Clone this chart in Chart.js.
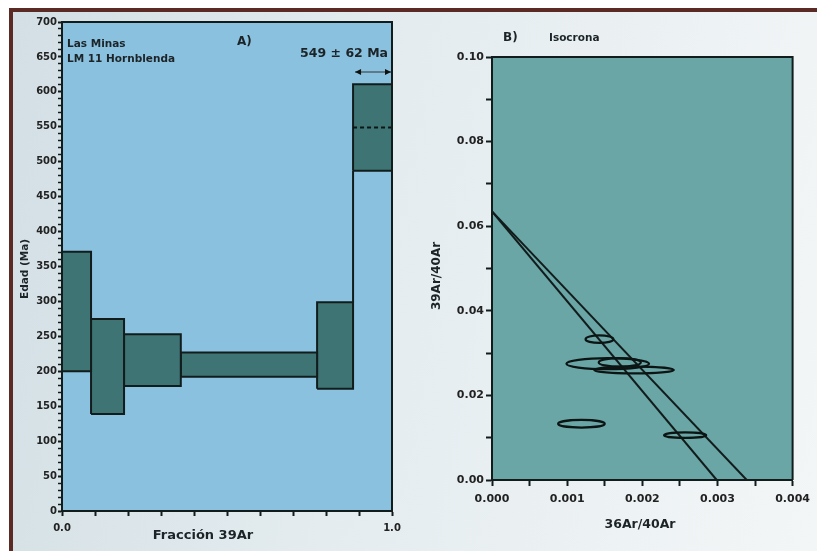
<!DOCTYPE html>
<html>
<head>
<meta charset="utf-8">
<script src="https://cdn.jsdelivr.net/npm/chart.js@4.4.0/dist/chart.umd.min.js"></script>
<style>
html, body { margin: 0; padding: 0; }
body { width: 817px; height: 551px; position: relative; overflow: hidden; background: #fff; }
#bg { position: absolute; left: 9px; top: 8px; width: 808px; height: 543px;
      background: linear-gradient(100deg, #d3dfe5 0%, #e4ecef 45%, #f3f6f7 100%);
      border-top: 4px solid #5b2a24; border-left: 4px solid #5b2a24; box-sizing: border-box; }
#c1 { position: absolute; left: 0; top: 0; width: 420px; height: 551px; }
#c2 { position: absolute; left: 420px; top: 0; width: 397px; height: 551px; }
</style>
</head>
<body>
<div id="bg"></div>
<canvas id="c1" width="420" height="551"></canvas>
<canvas id="c2" width="397" height="551"></canvas>
<script>
// A) age spectrum steps
const stepStart = [0, 0.088, 0.188, 0.36, 0.773, 0.882];
const stepEnd   = [0.088, 0.188, 0.36, 0.773, 0.882, 1.0];
const ageLow    = [200, 139, 179, 192, 175, 487];
const ageHigh   = [371, 275, 253, 227, 299, 611];
const plateauAge = 549;
const plateauErr = 62;

// B) isochron ellipses (centre and half-axes)
const ellX    = [0.00143, 0.00154, 0.00170, 0.00189, 0.00119, 0.00257];
const ellY    = [0.0333, 0.0275, 0.0278, 0.0260, 0.0133, 0.0106];
const ellErrX = [0.000185, 0.00055, 0.00028, 0.00053, 0.00031, 0.00028];
const ellErrY = [0.0009, 0.0013, 0.001, 0.0008, 0.0009, 0.00065];
// isochron lines: y intercept and x intercept
const isoYInt = [0.0635, 0.0635];
const isoXInt = [0.00299, 0.00339];

Chart.defaults.font.family = "'DejaVu Sans', sans-serif";
Chart.defaults.animation = false;

const edge = '#121c1c';
const tickFont = (size) => ({ size: size, weight: 'bold' });

function plotBg(color) {
    return {
        id: 'plotBg',
        beforeDraw(chart) {
            const a = chart.chartArea, c = chart.ctx;
            c.save();
            c.fillStyle = color;
            c.fillRect(a.left, a.top, a.right - a.left, a.bottom - a.top);
            c.restore();
        },
        afterDatasetsDraw(chart) {
            const a = chart.chartArea, c = chart.ctx;
            c.save();
            c.strokeStyle = edge;
            c.lineWidth = 2;
            c.beginPath();
            c.moveTo(a.left, a.top);
            c.lineTo(a.right, a.top);
            c.lineTo(a.right, a.bottom);
            c.stroke();
            c.restore();
        }
    };
}

function txt(c, s, x, y, size, align, rot) {
    c.save();
    c.font = 'bold ' + size + "px 'DejaVu Sans', sans-serif";
    c.fillStyle = '#1c2428';
    c.textAlign = align || 'left';
    c.textBaseline = 'middle';
    c.translate(x, y);
    if (rot) c.rotate(rot);
    c.fillText(s, 0, 0);
    c.restore();
}

// ---------- A) ----------
const stepSets = stepStart.map((s, i) => ({
    data: [
        { x: s, y: ageLow[i] }, { x: stepEnd[i], y: ageLow[i] },
        { x: stepEnd[i], y: ageHigh[i] }, { x: s, y: ageHigh[i] }, { x: s, y: ageLow[i] }
    ],
    fill: 'shape',
    backgroundColor: '#3e7474',
    borderColor: edge,
    borderWidth: 2,
    pointRadius: 0,
    tension: 0,
    clip: 3,
    order: 1
}));

// vertical joins where consecutive steps leave a gap
const joins = [];
for (let i = 0; i < stepStart.length - 1; i++) {
    if (ageHigh[i] < ageLow[i + 1]) {
        joins.push({
            data: [{ x: stepStart[i + 1], y: ageHigh[i] }, { x: stepStart[i + 1], y: ageLow[i + 1] }],
            borderColor: edge, borderWidth: 2, pointRadius: 0, fill: false, clip: 3, order: 0
        });
    }
}

const plateauLine = {
    data: [{ x: stepStart[5], y: plateauAge }, { x: stepEnd[5], y: plateauAge }],
    borderColor: '#0c1414', borderWidth: 2, borderDash: [4, 3], pointRadius: 0, fill: false, order: 0
};

const labelsA = {
    id: 'labelsA',
    afterDraw(chart) {
        const c = chart.ctx, xs = chart.scales.x;
        txt(c, 'Las Minas', 67, 44, 10.5);
        txt(c, 'LM 11 Hornblenda', 67, 59, 10.5);
        txt(c, 'A)', 237, 42, 12);
        txt(c, '549 \u00b1 ' + plateauErr + ' Ma', 388, 54, 12.5, 'right');
        txt(c, 'Edad (Ma)', 25, 269, 10.5, 'center', -Math.PI / 2);
        txt(c, 'Fracción 39Ar', 203, 536, 13, 'center');
        // arrow over the plateau step
        const x0 = xs.getPixelForValue(stepStart[5]) + 2, x1 = xs.getPixelForValue(stepEnd[5]) - 1, y = 72;
        c.save();
        c.strokeStyle = '#333';
        c.lineWidth = 1;
        c.beginPath(); c.moveTo(x0, y); c.lineTo(x1, y); c.stroke();
        c.fillStyle = '#111';
        c.beginPath(); c.moveTo(x0, y); c.lineTo(x0 + 6, y - 3); c.lineTo(x0 + 6, y + 3); c.closePath(); c.fill();
        c.beginPath(); c.moveTo(x1, y); c.lineTo(x1 - 6, y - 3); c.lineTo(x1 - 6, y + 3); c.closePath(); c.fill();
        c.restore();
    }
};

new Chart(document.getElementById('c1'), {
    type: 'line',
    data: { datasets: [...stepSets, ...joins, plateauLine] },
    options: {
        responsive: false,
        layout: { padding: { top: 22, right: 28, left: 0, bottom: 0 } },
        plugins: { legend: { display: false }, tooltip: { enabled: false } },
        scales: {
            x: {
                type: 'linear', min: 0, max: 1,
                afterFit: s => { s.height = 40; },
                ticks: {
                    stepSize: 0.1, autoSkip: false, maxRotation: 0, padding: 6,
                    color: '#222', font: tickFont(10),
                    callback: v => (Math.abs(v) < 1e-9 || Math.abs(v - 1) < 1e-9) ? v.toFixed(1) : ''
                },
                grid: { drawOnChartArea: false, tickLength: 5, tickColor: edge, tickWidth: 2 },
                border: { color: edge, width: 2 }
            },
            y: {
                type: 'linear', min: 0, max: 700,
                afterFit: s => { s.width = 62; },
                ticks: {
                    stepSize: 10, autoSkip: false, padding: 1,
                    color: '#222', font: tickFont(10),
                    callback: v => v % 50 === 0 ? v : ''
                },
                grid: {
                    drawOnChartArea: false, tickLength: 4, tickColor: edge,
                    tickWidth: ctx => (ctx.tick && ctx.tick.value % 50 === 0) ? 2 : 1.5
                },
                border: { color: edge, width: 2 }
            }
        }
    },
    plugins: [plotBg('#8ac1de'), labelsA]
});

// ---------- B) ----------
const isoSets = isoYInt.map((b, i) => ({
    data: [{ x: 0, y: b }, { x: isoXInt[i], y: 0 }],
    borderColor: edge, borderWidth: 2, pointRadius: 0, fill: false
}));

const centres = {
    data: ellX.map((x, i) => ({ x: x, y: ellY[i] })),
    showLine: false, pointRadius: 0, borderColor: edge
};

const ellipses = {
    id: 'ellipses',
    afterDatasetsDraw(chart) {
        const c = chart.ctx, xs = chart.scales.x, ys = chart.scales.y;
        c.save();
        c.strokeStyle = '#0c1414';
        c.lineWidth = 2.2;
        ellX.forEach((x, i) => {
            const cx = xs.getPixelForValue(x), cy = ys.getPixelForValue(ellY[i]);
            const rx = Math.abs(xs.getPixelForValue(x + ellErrX[i]) - cx);
            const ry = Math.abs(ys.getPixelForValue(ellY[i] + ellErrY[i]) - cy);
            c.beginPath();
            c.ellipse(cx, cy, rx, ry, 0, 0, Math.PI * 2);
            c.stroke();
        });
        c.restore();
    }
};

const labelsB = {
    id: 'labelsB',
    afterDraw(chart) {
        const c = chart.ctx;
        txt(c, 'B)', 83, 38, 12);
        txt(c, 'Isocrona', 129, 38, 10.5);
        txt(c, '39Ar/40Ar', 17, 276, 12, 'center', -Math.PI / 2);
        txt(c, '36Ar/40Ar', 220, 525, 12.5, 'center');
    }
};

new Chart(document.getElementById('c2'), {
    type: 'line',
    data: { datasets: [...isoSets, centres] },
    options: {
        responsive: false,
        layout: { padding: { top: 57, right: 23, left: 0, bottom: 0 } },
        plugins: { legend: { display: false }, tooltip: { enabled: false } },
        scales: {
            x: {
                type: 'linear', min: 0, max: 0.004,
                afterFit: s => { s.height = 71; },
                ticks: {
                    stepSize: 0.0005, autoSkip: false, maxRotation: 0, padding: 7,
                    color: '#222', font: tickFont(11),
                    callback: v => Math.round(v * 10000) % 10 === 0 ? v.toFixed(3) : ''
                },
                grid: { drawOnChartArea: false, tickLength: 6, tickColor: edge, tickWidth: 2 },
                border: { color: edge, width: 2 }
            },
            y: {
                type: 'linear', min: 0, max: 0.1,
                afterFit: s => { s.width = 72; },
                ticks: {
                    stepSize: 0.01, autoSkip: false, padding: 2,
                    color: '#222', font: tickFont(11),
                    callback: v => Math.round(v * 100) % 2 === 0 ? v.toFixed(2) : ''
                },
                grid: { drawOnChartArea: false, tickLength: 6, tickColor: edge, tickWidth: 2 },
                border: { color: edge, width: 2 }
            }
        }
    },
    plugins: [plotBg('#6aa6a5'), ellipses, labelsB]
});
</script>
</body>
</html>
